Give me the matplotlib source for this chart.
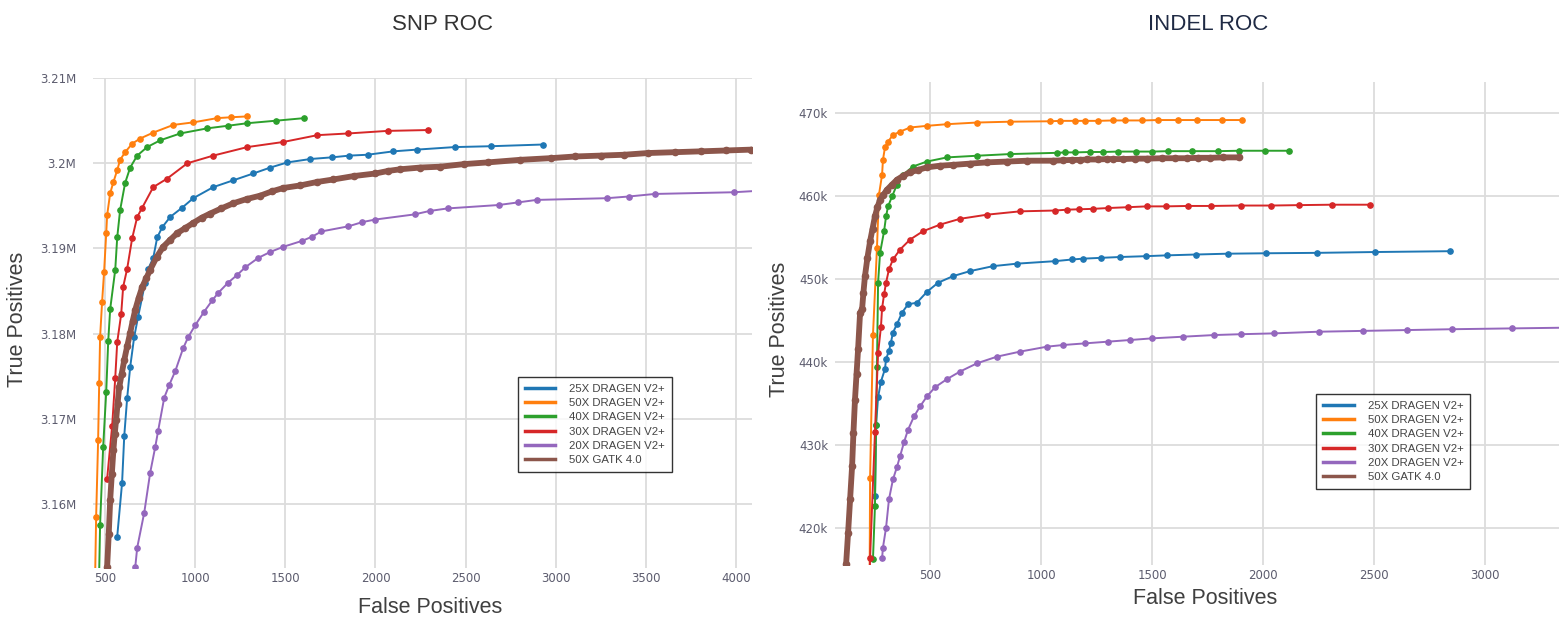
import matplotlib
matplotlib.use('Agg')
import matplotlib.pyplot as plt
from matplotlib.ticker import FuncFormatter

plt.rcParams['font.family'] = ['DejaVu Sans']

t_Labels = ['25X DRAGEN V2+', '50X DRAGEN V2+', '40X DRAGEN V2+',
            '30X DRAGEN V2+', '20X DRAGEN V2+', '50X GATK 4.0']
t_Colors = ['#1f77b4', '#ff7f0e', '#2ca02c', '#d62728', '#9467bd', '#8c564b']

# SNP ROC: false positives vs true positives (thousands)
snp_25x_fp = [567, 594, 606, 622, 639, 661, 683, 722, 739, 767, 789, 817, 861, 928, 989, 1100,
              1211, 1322, 1417, 1511, 1639, 1761, 1856, 1956, 2100, 2228, 2439, 2639, 2928]
snp_25x_tp = [3156.2, 3162.5, 3168.0, 3172.4, 3176.1, 3179.6, 3182.0, 3186.0, 3187.6, 3188.9,
              3191.3, 3192.5, 3193.7, 3194.8, 3195.9, 3197.2, 3198.0, 3198.8, 3199.5, 3200.1,
              3200.5, 3200.7, 3200.9, 3201.0, 3201.4, 3201.6, 3201.9, 3202.0, 3202.2]
snp_50x_fp = [440, 450, 461, 467, 472, 483, 494, 506, 511, 528, 546, 567, 583, 611, 650, 694,
              767, 878, 989, 1122, 1200, 1289]
snp_50x_tp = [3146.0, 3158.5, 3167.5, 3174.2, 3179.6, 3183.7, 3187.2, 3191.8, 3193.9, 3196.5,
              3197.8, 3199.2, 3200.4, 3201.3, 3202.3, 3202.9, 3203.6, 3204.5, 3204.8, 3205.3,
              3205.4, 3205.5]
snp_40x_fp = [465, 472, 489, 506, 517, 528, 556, 567, 583, 611, 639, 678, 733, 806, 917, 1067,
              1180, 1289, 1450, 1606]
snp_40x_tp = [3150.0, 3157.6, 3166.7, 3173.2, 3179.1, 3182.9, 3187.5, 3191.3, 3194.5, 3197.7,
              3199.5, 3200.9, 3201.9, 3202.7, 3203.5, 3204.1, 3204.4, 3204.7, 3205.0, 3205.3]
snp_30x_fp = [511, 539, 556, 567, 589, 600, 622, 650, 678, 706, 767, 844, 956, 1100, 1289,
              1489, 1678, 1850, 2067, 2294]
snp_30x_tp = [3163.0, 3169.2, 3174.8, 3179.0, 3182.3, 3185.5, 3187.6, 3191.2, 3193.7, 3194.8,
              3197.2, 3198.2, 3200.0, 3200.9, 3201.9, 3202.5, 3203.3, 3203.5, 3203.8, 3203.9]
snp_20x_fp = [667, 678, 717, 750, 778, 794, 828, 856, 889, 933, 961, 1000, 1050, 1094, 1128,
              1183, 1233, 1278, 1350, 1417, 1489, 1594, 1650, 1700, 1850, 1928, 2000, 2217,
              2300, 2400, 2683, 2789, 2894, 3283, 3406, 3550, 3989, 4150]
snp_20x_tp = [3152.6, 3154.9, 3159.0, 3163.7, 3166.7, 3168.6, 3172.5, 3174.0, 3175.6, 3178.3,
              3179.6, 3181.0, 3182.6, 3183.9, 3184.8, 3186.0, 3186.9, 3187.8, 3188.9, 3189.6,
              3190.2, 3190.9, 3191.4, 3192.0, 3192.6, 3193.1, 3193.4, 3194.0, 3194.4, 3194.7,
              3195.1, 3195.4, 3195.7, 3195.9, 3196.1, 3196.4, 3196.6, 3196.8]
snp_gatk_fp = [511, 520, 528, 537, 546, 553, 561, 569, 578, 592, 606, 622, 639, 653, 667, 686,
               706, 728, 750, 786, 822, 860, 900, 945, 989, 1035, 1083, 1145, 1211, 1285, 1361,
               1425, 1489, 1583, 1675, 1767, 1880, 2000, 2070, 2139, 2250, 2361, 2490, 2622,
               2800, 2972, 3110, 3250, 3380, 3511, 3660, 3806, 3945, 4083, 4200]
snp_gatk_tp = [3152.6, 3156.5, 3160.5, 3163.5, 3166.4, 3168.2, 3169.9, 3171.8, 3173.7, 3175.3,
               3176.9, 3178.5, 3180.1, 3181.5, 3182.8, 3184.2, 3185.5, 3186.5, 3187.5, 3189.0,
               3190.2, 3191.0, 3191.8, 3192.4, 3193.0, 3193.6, 3194.1, 3194.7, 3195.3, 3195.8,
               3196.2, 3196.7, 3197.1, 3197.4, 3197.8, 3198.1, 3198.5, 3198.8, 3199.1, 3199.3,
               3199.5, 3199.6, 3199.9, 3200.1, 3200.4, 3200.6, 3200.8, 3200.9, 3201.0, 3201.2,
               3201.3, 3201.4, 3201.5, 3201.6, 3201.7]

# INDEL ROC: false positives vs true positives (thousands)
indel_25x_fp = [252, 257, 266, 279, 297, 302, 315, 324, 333, 351, 374, 401, 441, 486, 536, 604,
                680, 784, 892, 1063, 1140, 1189, 1270, 1356, 1473, 1568, 1698, 1842, 2014, 2243,
                2505, 2842]
indel_25x_tp = [423.8, 432.4, 435.7, 437.6, 439.1, 440.3, 441.3, 442.3, 443.5, 444.5, 445.9,
                446.9, 447.1, 448.4, 449.5, 450.3, 450.9, 451.5, 451.8, 452.1, 452.3, 452.4,
                452.5, 452.6, 452.7, 452.8, 452.9, 453.0, 453.05, 453.1, 453.2, 453.3]
indel_50x_fp = [228, 230, 243, 261, 270, 284, 288, 297, 311, 333, 365, 410, 486, 577, 712, 860,
                1041, 1086, 1153, 1198, 1257, 1324, 1378, 1455, 1527, 1617, 1703, 1815, 1905]
indel_50x_tp = [414.0, 426.0, 443.2, 453.7, 460.1, 462.5, 464.3, 465.8, 466.5, 467.3, 467.7,
                468.2, 468.4, 468.6, 468.8, 468.9, 468.95, 469.0, 469.0, 469.0, 469.0, 469.05,
                469.05, 469.05, 469.1, 469.1, 469.1, 469.1, 469.1]
indel_40x_fp = [243, 252, 257, 261, 266, 275, 293, 302, 311, 329, 351, 378, 423, 486, 577, 712,
                860, 1072, 1108, 1153, 1221, 1279, 1347, 1428, 1500, 1572, 1680, 1797, 1892,
                2009, 2117]
indel_40x_tp = [416.2, 422.6, 432.4, 439.4, 449.5, 453.1, 455.7, 457.5, 458.7, 459.9, 461.3,
                462.5, 463.5, 464.1, 464.6, 464.8, 465.0, 465.15, 465.2, 465.2, 465.25, 465.25,
                465.3, 465.3, 465.3, 465.35, 465.35, 465.35, 465.4, 465.4, 465.4]
indel_30x_fp = [225, 230, 252, 266, 279, 284, 293, 302, 315, 333, 365, 410, 468, 545, 635, 757,
                905, 1063, 1117, 1171, 1234, 1302, 1392, 1477, 1563, 1662, 1766, 1901, 2036,
                2162, 2311, 2482]
indel_30x_tp = [412.0, 416.3, 431.5, 441.0, 444.2, 446.4, 448.1, 449.5, 451.1, 452.3, 453.5,
                454.7, 455.7, 456.5, 457.2, 457.7, 458.1, 458.2, 458.3, 458.35, 458.4, 458.5,
                458.6, 458.7, 458.7, 458.75, 458.75, 458.8, 458.8, 458.85, 458.9, 458.9]
indel_20x_fp = [284, 288, 302, 315, 333, 351, 365, 383, 401, 428, 455, 486, 522, 577, 635, 712,
                802, 905, 1027, 1100, 1200, 1300, 1400, 1500, 1640, 1780, 1900, 2050, 2250,
                2450, 2650, 2850, 3120, 3400]
indel_20x_tp = [416.3, 417.6, 420.0, 423.4, 425.8, 427.3, 428.6, 430.3, 431.8, 433.4, 434.6,
                435.8, 436.9, 437.9, 438.8, 439.8, 440.6, 441.2, 441.8, 442.0, 442.2, 442.4,
                442.6, 442.8, 443.0, 443.2, 443.3, 443.4, 443.6, 443.7, 443.8, 443.9, 444.0,
                444.1]
indel_gatk_fp = [120, 122, 131, 140, 149, 155, 162, 169, 176, 185, 194, 200, 207, 218, 230, 241,
                 252, 263, 275, 290, 306, 328, 351, 380, 410, 448, 486, 545, 604, 680, 757,
                 847, 937, 1054, 1099, 1140, 1176, 1207, 1257, 1297, 1324, 1369, 1423, 1477,
                 1545, 1604, 1658, 1707, 1761, 1820, 1892]
indel_gatk_tp = [413.0, 415.6, 419.4, 423.4, 427.4, 431.4, 435.4, 438.5, 441.5, 445.9, 446.3,
                 448.3, 450.3, 452.5, 454.5, 456.0, 457.5, 458.6, 459.5, 460.1, 460.7, 461.3,
                 461.9, 462.4, 462.8, 463.1, 463.4, 463.6, 463.7, 463.85, 464.0, 464.1, 464.2,
                 464.2, 464.25, 464.3, 464.3, 464.35, 464.35, 464.4, 464.4, 464.4, 464.45,
                 464.45, 464.5, 464.5, 464.5, 464.55, 464.55, 464.6, 464.6]

snp_series = [(snp_25x_fp, snp_25x_tp), (snp_50x_fp, snp_50x_tp), (snp_40x_fp, snp_40x_tp),
              (snp_30x_fp, snp_30x_tp), (snp_20x_fp, snp_20x_tp), (snp_gatk_fp, snp_gatk_tp)]
indel_series = [(indel_25x_fp, indel_25x_tp), (indel_50x_fp, indel_50x_tp),
                (indel_40x_fp, indel_40x_tp), (indel_30x_fp, indel_30x_tp),
                (indel_20x_fp, indel_20x_tp), (indel_gatk_fp, indel_gatk_tp)]

fig = plt.figure(figsize=(15.59, 6.21), dpi=100)
ax1 = fig.add_axes([0.0597, 0.0853, 0.4227, 0.789])
ax2 = fig.add_axes([0.5356, 0.0902, 0.4644, 0.778])


def draw_panel(ax, series, ypad, legend_pos):
    for i, (fp, tp) in enumerate(series):
        if i == 5:
            ax.plot(fp, tp, color=t_Colors[i], lw=4.2, marker='o', ms=4.5, zorder=3,
                    solid_capstyle='round')
        else:
            ax.plot(fp, tp, color=t_Colors[i], lw=1.4, marker='o', ms=3.8, zorder=3)
    for s in ax.spines.values():
        s.set_visible(False)
    ax.grid(True, color='#dcdcdc', lw=1.3)
    ax.set_axisbelow(True)
    ax.tick_params(length=0, labelsize=8.5, labelcolor='#5c5c6e')
    ax.tick_params(axis='y', pad=ypad)
    ax.tick_params(axis='x', pad=3)
    handles = [plt.Line2D([], [], color=c, lw=2.5) for c in t_Colors]
    leg = ax.legend(handles, t_Labels, loc='upper left', bbox_to_anchor=legend_pos,
                    fontsize=8.2, frameon=True, fancybox=False, handlelength=2.7,
                    labelspacing=0.38, borderpad=0.6, handletextpad=1.2)
    leg.get_frame().set_edgecolor('black')
    leg.get_frame().set_linewidth(1.0)
    for t in leg.get_texts():
        t.set_color('#444444')
        t.set_family('Liberation Sans')


draw_panel(ax1, snp_series, 12, (0.636, 0.402))
ax1.set_xlim(433, 4090)
ax1.set_ylim(3152.5, 3210)
ax1.set_xticks([500, 1000, 1500, 2000, 2500, 3000, 3500, 4000])
ax1.set_yticks([3160, 3170, 3180, 3190, 3200, 3210])
ax1.yaxis.set_major_formatter(FuncFormatter(lambda v, p: '{:g}M'.format(round(v / 1000, 3))))

draw_panel(ax2, indel_series, 5, (0.657, 0.366))
ax2.set_xlim(72, 3333)
ax2.set_ylim(415.5, 473.7)
ax2.set_xticks([500, 1000, 1500, 2000, 2500, 3000])
ax2.set_yticks([420, 430, 440, 450, 460, 470])
ax2.yaxis.set_major_formatter(FuncFormatter(lambda v, p: '{:g}k'.format(v)))

fig.text(0.284, 0.96, 'SNP ROC', ha='center', va='center', fontsize=16,
         family='Liberation Sans', color='#333333')
fig.text(0.775, 0.96, 'INDEL ROC', ha='center', va='center', fontsize=16,
         family='Liberation Sans', color='#1f2a44')
fig.text(0.276, 0.021, 'False Positives', ha='center', va='center', fontsize=15.5,
         family='Liberation Sans', color='#404040')
fig.text(0.773, 0.037, 'False Positives', ha='center', va='center', fontsize=15.5,
         family='Liberation Sans', color='#404040')
fig.text(0.0115, 0.485, 'True Positives', ha='center', va='center', rotation=90,
         fontsize=15.5, family='Liberation Sans', color='#404040')
fig.text(0.5, 0.469, 'True Positives', ha='center', va='center', rotation=90,
         fontsize=15.5, family='Liberation Sans', color='#404040')

fig.savefig('out.png', dpi=100)
